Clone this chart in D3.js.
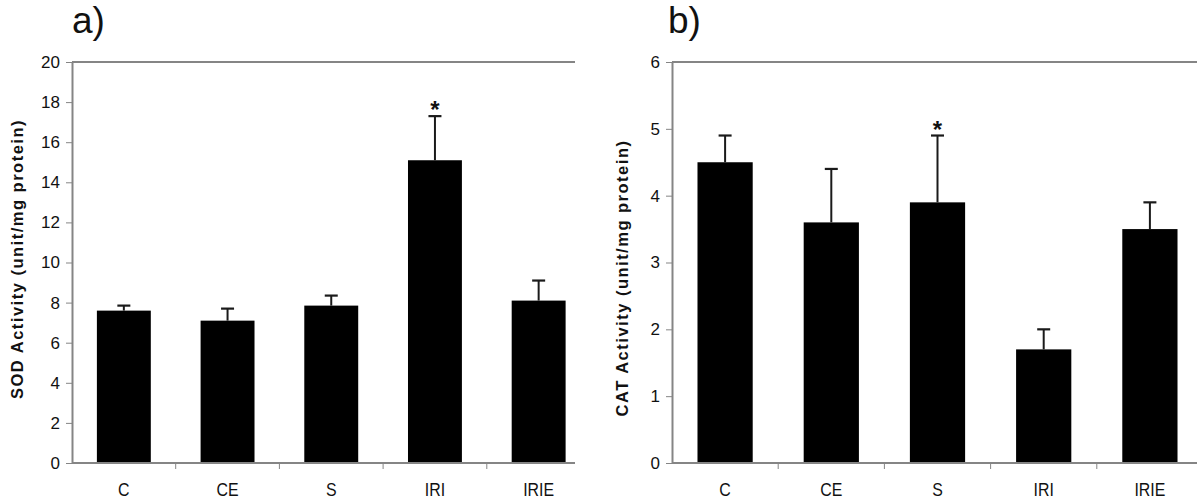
<!DOCTYPE html>
<html><head><meta charset="utf-8">
<script src="https://cdn.jsdelivr.net/npm/d3@7"></script>
<style>
body{margin:0;background:#fff;}
text{font-family:"Liberation Sans",Arial,sans-serif;}
</style></head><body>
<svg id="c" width="1200" height="504"></svg>
<script>
const categories = ["C","CE","S","IRI","IRIE"];
const sodValues = [7.6, 7.1, 7.85, 15.1, 8.1];
const sodErrors = [0.25, 0.6, 0.5, 2.2, 1.0];
const sodSignif = [false,false,false,true,false];
const sodTicks = [0,2,4,6,8,10,12,14,16,18,20];
const catValues = [4.5, 3.6, 3.9, 1.7, 3.5];
const catErrors = [0.4, 0.8, 1.0, 0.3, 0.4];
const catSignif = [false,false,true,false,false];
const catTicks = [0,1,2,3,4,5,6];

const svg = d3.select("#c");
const grey = "#858585";

function panel(o){
  const g = svg.append("g");
  const x = d3.scaleBand().domain(categories).range([o.left, o.left + o.catW*5]).paddingInner(0.48).paddingOuter(0.24);
  const y = d3.scaleLinear().domain([0, o.max]).range([o.bottom, o.top]);
  g.append("line").attr("x1",o.left).attr("x2",o.right).attr("y1",y(o.max)).attr("y2",y(o.max)).attr("stroke",grey).attr("stroke-width",2);
  const ya = g.append("g").attr("transform",`translate(${o.left},0)`)
    .call(d3.axisLeft(y).tickValues(o.ticks).tickFormat(d3.format("d")).tickSize(6).tickPadding(6).tickSizeOuter(0));
  ya.select(".domain").attr("stroke",grey).attr("stroke-width",2);
  ya.selectAll(".tick line").attr("stroke",grey).attr("stroke-width",1);
  ya.selectAll(".tick text").attr("font-size",17).attr("fill","#111").attr("font-family","Liberation Sans, Arial, sans-serif");
  g.selectAll("rect.bar").data(o.values).enter().append("rect")
    .attr("x",(d,i)=>x(categories[i])).attr("width",x.bandwidth())
    .attr("y",d=>y(d)).attr("height",d=>o.bottom-y(d)).attr("fill","#000");
  const cx = i => x(categories[i]) + x.bandwidth()/2;
  o.values.forEach((v,i)=>{
    const t = y(v+o.errors[i]);
    g.append("line").attr("x1",cx(i)).attr("x2",cx(i)).attr("y1",y(v)).attr("y2",t).attr("stroke","#1a1a1a").attr("stroke-width",2);
    g.append("line").attr("x1",cx(i)-6.5).attr("x2",cx(i)+6.5).attr("y1",t).attr("y2",t).attr("stroke","#1a1a1a").attr("stroke-width",2.2);
    if(o.signif[i]) g.append("text").attr("x",cx(i)).attr("y",t+2).attr("text-anchor","middle").attr("font-size",24).attr("font-weight","bold").attr("fill","#111").text("*");
  });
  g.append("line").attr("x1",o.left).attr("x2",o.right).attr("y1",o.bottom).attr("y2",o.bottom).attr("stroke",grey).attr("stroke-width",2);
  for(let i=1;i<5;i++){
    const bx = o.left + o.catW*i;
    g.append("line").attr("x1",bx).attr("x2",bx).attr("y1",o.bottom).attr("y2",o.bottom+6).attr("stroke",grey).attr("stroke-width",1);
  }
  categories.forEach((c,i)=>{
    g.append("text").attr("transform",`translate(${cx(i)},${o.bottom+33}) scale(0.86,1)`).attr("text-anchor","middle")
      .attr("font-size",18.5).attr("fill","#111").text(c);
  });
  g.append("text").attr("transform",`translate(${o.titleX},${o.titleY}) rotate(-90)`).attr("text-anchor","middle")
    .attr("font-size",16.5).attr("font-weight","bold").attr("letter-spacing",1.5).attr("fill","#111").text(o.ytitle);
  g.append("text").attr("x",o.labelX).attr("y",33).attr("font-size",37).attr("fill","#111").text(o.label);
}

panel({left:72,right:575,top:62,bottom:463,catW:103.7,max:20,ticks:sodTicks,values:sodValues,errors:sodErrors,signif:sodSignif,
  ytitle:"SOD Activity (unit/mg protein)",titleX:23,titleY:259,label:"a)",labelX:72});
panel({left:672,right:1197,top:62,bottom:463,catW:106.2,max:6,ticks:catTicks,values:catValues,errors:catErrors,signif:catSignif,
  ytitle:"CAT Activity (unit/mg protein)",titleX:628,titleY:278,label:"b)",labelX:668});
</script>
</body></html>
